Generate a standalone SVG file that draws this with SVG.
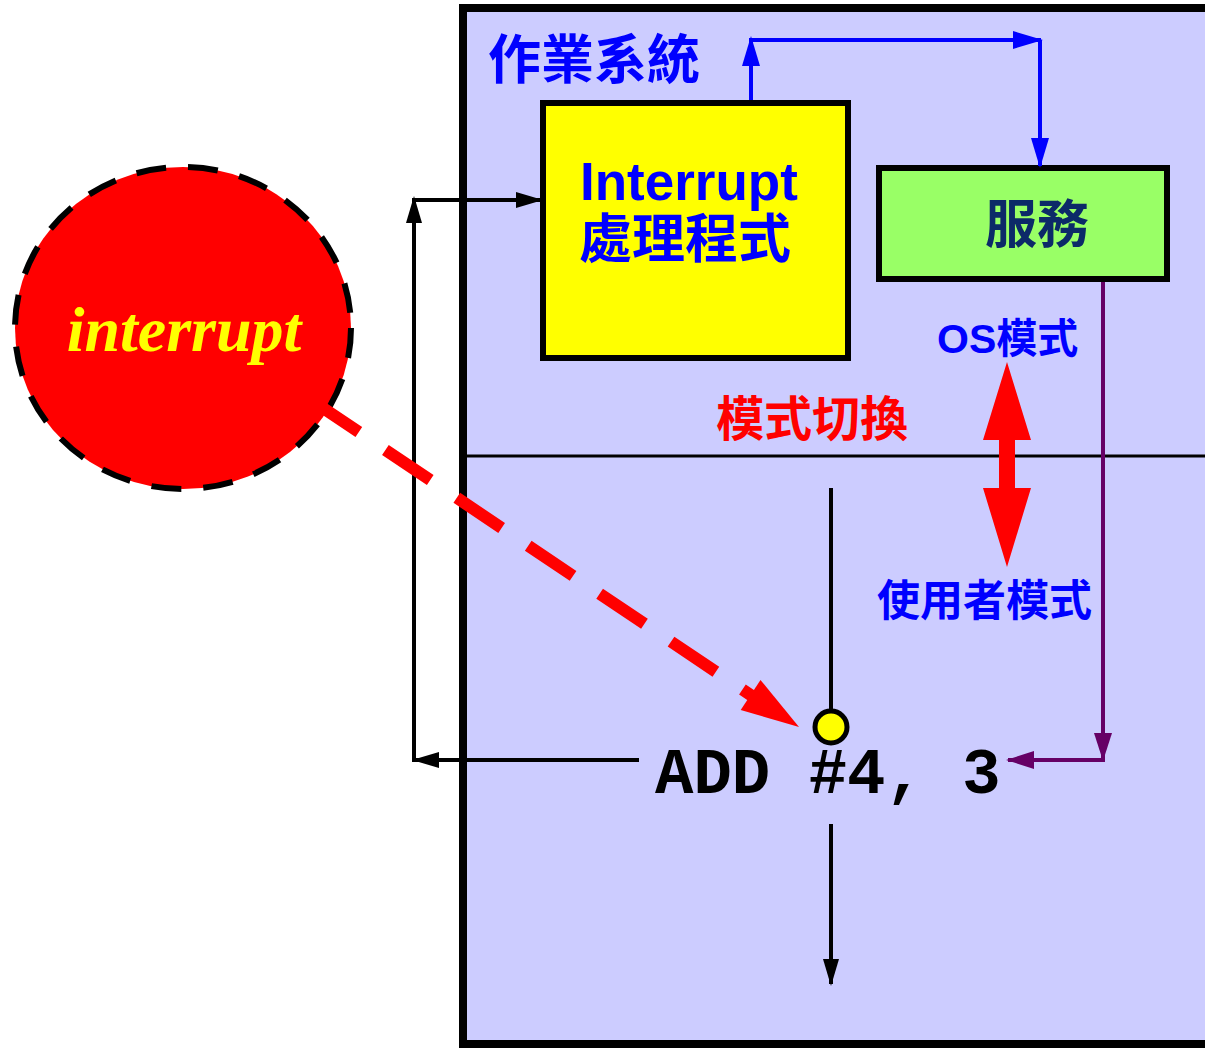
<svg xmlns="http://www.w3.org/2000/svg" width="1205" height="1049" viewBox="0 0 1205 1049">
<style>
.cjk{font-family:"Liberation Sans","Noto Sans CJK TC",sans-serif;font-weight:bold}
.blk{stroke:#000;stroke-width:4;fill:none}
.blu{stroke:#0000ff;stroke-width:4;fill:none}
.pur{stroke:#660066;stroke-width:4;fill:none}
</style>
<defs>
<marker id="ab" markerUnits="userSpaceOnUse" viewBox="0 0 27 16" refX="25" refY="8" markerWidth="27" markerHeight="16" orient="auto"><path d="M0,0 L27,8 L0,16 z" fill="#000"/></marker>
<marker id="au" markerUnits="userSpaceOnUse" viewBox="0 0 30 18" refX="28" refY="9" markerWidth="30" markerHeight="18" orient="auto"><path d="M0,0 L30,9 L0,18 z" fill="#0000ff"/></marker>
<marker id="ap" markerUnits="userSpaceOnUse" viewBox="0 0 28 18" refX="26" refY="9" markerWidth="28" markerHeight="18" orient="auto"><path d="M0,0 L28,9 L0,18 z" fill="#660066"/></marker>
</defs>
<rect width="1205" height="1049" fill="#fff"/>
<g id="os-box">
<rect x="463" y="8" width="760" height="1036" fill="#ccccff" stroke="#000" stroke-width="8"/>
<line x1="467" y1="456" x2="1205" y2="456" stroke="#000" stroke-width="3"/>
<text class="cjk" x="488" y="79" font-size="53" fill="#0000ff">作業系統</text>
</g>
<g id="interrupt-handler">
<rect x="543" y="103" width="305" height="255" fill="#ffff00" stroke="#000" stroke-width="6"/>
<text class="cjk" x="580" y="200" font-size="53" fill="#0000ff">Interrupt</text>
<text class="cjk" x="579" y="258" font-size="53" fill="#0000ff">處理程式</text>
</g>
<g id="service">
<rect x="879" y="168" width="288" height="111" fill="#99ff66" stroke="#000" stroke-width="6"/>
<text class="cjk" x="985" y="243" font-size="52" fill="#0c2a68">服務</text>
</g>
<g id="interrupt">
<ellipse cx="183" cy="328" rx="168" ry="161" fill="#ff0000" stroke="#000" stroke-width="6" stroke-dasharray="30 22"/>
<text x="184" y="351" font-size="64" font-family="Liberation Serif,serif" font-weight="bold" font-style="italic" fill="#ffff00" text-anchor="middle">interrupt</text>
</g>
<g id="labels">
<text class="cjk" x="937" y="353" font-size="41" fill="#0000ff">OS模式</text>
<text class="cjk" x="716" y="436" font-size="48" fill="#ff0000">模式切換</text>
<text class="cjk" x="877" y="616" font-size="43" fill="#0000ff">使用者模式</text>
</g>
<g id="instruction">
<text x="655" y="793" font-size="64" font-family="Liberation Mono,monospace" font-weight="bold" fill="#000" xml:space="preserve">ADD #4, 3</text>
<circle cx="831" cy="727" r="16" fill="#ffff00" stroke="#000" stroke-width="5"/>
</g>
<g id="connectors">
<line class="blu" x1="751" y1="100" x2="751" y2="38" marker-end="url(#au)"/>
<line class="blu" x1="751" y1="40" x2="1041" y2="40" marker-end="url(#au)"/>
<line class="blu" x1="1040" y1="40" x2="1040" y2="166" marker-end="url(#au)"/>
<line class="pur" x1="1103" y1="282" x2="1103" y2="759" marker-end="url(#ap)"/>
<line class="pur" x1="1105" y1="760" x2="1008" y2="760" marker-end="url(#ap)"/>
<line class="blk" x1="639" y1="760" x2="414" y2="760" marker-end="url(#ab)"/>
<line class="blk" x1="414" y1="762" x2="414" y2="198" marker-end="url(#ab)"/>
<line class="blk" x1="412" y1="200" x2="541" y2="200" marker-end="url(#ab)"/>
<line class="blk" x1="831" y1="488" x2="831" y2="711"/>
<line class="blk" x1="831" y1="824" x2="831" y2="984" marker-end="url(#ab)"/>
<polygon points="1007,362 1031,440 1015,440 1015,488 1031,488 1007,567 983,488 999,488 999,440 983,440" fill="#ff0000"/>
<line x1="314" y1="402" x2="755" y2="698" stroke="#ff0000" stroke-width="12" stroke-dasharray="54 32"/>
<polygon points="799,727 740.7,710 760.5,680" fill="#ff0000"/>
</g>
</svg>
